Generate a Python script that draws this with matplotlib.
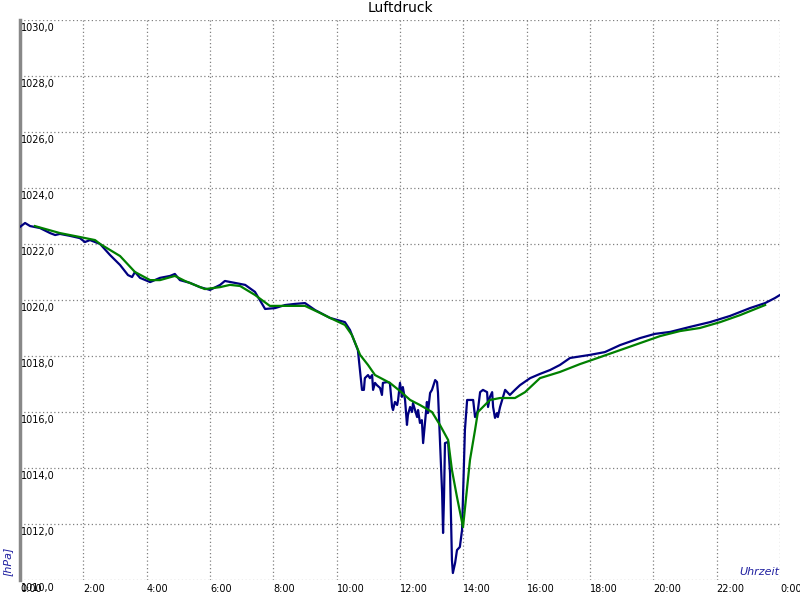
import matplotlib
matplotlib.use("Agg")
from matplotlib import pyplot as plt

# Luftdruck, blau: Messwerte, gruen: geglaettet
t_blau = [0.00, 0.16, 0.32, 0.63, 0.95, 1.11, 1.26, 1.58, 1.89, 2.05, 2.21, 2.53, 2.84, 3.16, 3.41, 3.54,
          3.63, 3.79, 4.11, 4.42, 4.74, 4.89, 5.05, 5.37, 5.68, 6.00, 6.32, 6.47, 6.79, 7.11, 7.42, 7.74,
          8.05, 8.37, 8.68, 9.00, 9.32, 9.79, 10.26, 10.42, 10.67, 10.80, 10.86, 10.89, 10.99, 11.05, 11.12,
          11.15, 11.21, 11.27, 11.37, 11.43, 11.46, 11.59, 11.68, 11.75, 11.78, 11.84, 11.91, 11.94, 12.00,
          12.06, 12.09, 12.16, 12.22, 12.25, 12.32, 12.38, 12.41, 12.54, 12.57, 12.63, 12.69, 12.73, 12.79,
          12.85, 12.88, 12.95, 13.01, 13.11, 13.17, 13.20, 13.26, 13.33, 13.36, 13.39, 13.42, 13.52, 13.58,
          13.64, 13.67, 13.74, 13.80, 13.89, 13.96, 13.99, 14.05, 14.12, 14.21, 14.31, 14.37, 14.43, 14.46,
          14.53, 14.62, 14.75, 14.78, 14.84, 14.91, 14.94, 15.00, 15.06, 15.09, 15.16, 15.32, 15.47, 15.63,
          15.79, 16.11, 16.42, 16.74, 17.05, 17.37, 18.00, 18.47, 18.95, 19.58, 20.05, 20.53, 21.16, 21.79,
          22.42, 23.05, 23.53, 23.84, 24.00]
p_blau = [1022.61, 1022.75, 1022.64, 1022.57, 1022.39, 1022.32, 1022.36, 1022.29, 1022.21, 1022.07, 1022.14,
          1022.00, 1021.61, 1021.25, 1020.89, 1020.82, 1021.00, 1020.79, 1020.64, 1020.79, 1020.86, 1020.93,
          1020.71, 1020.61, 1020.46, 1020.36, 1020.54, 1020.68, 1020.61, 1020.54, 1020.29, 1019.68, 1019.71,
          1019.82, 1019.86, 1019.89, 1019.64, 1019.36, 1019.21, 1018.93, 1018.21, 1016.79, 1016.79, 1017.21,
          1017.32, 1017.21, 1017.32, 1016.79, 1017.04, 1016.96, 1016.86, 1016.61, 1017.04, 1017.07, 1017.04,
          1016.18, 1016.07, 1016.36, 1016.25, 1016.43, 1017.04, 1016.54, 1016.89, 1016.43, 1015.54, 1015.89,
          1016.18, 1016.00, 1016.32, 1015.82, 1016.07, 1015.61, 1015.71, 1014.89, 1015.61, 1016.36, 1015.96,
          1016.68, 1016.79, 1017.14, 1017.07, 1016.68, 1015.00, 1013.11, 1011.68, 1012.96, 1014.89, 1014.93,
          1013.82, 1010.71, 1010.25, 1010.61, 1011.07, 1011.18, 1011.79, 1012.96, 1015.36, 1016.43, 1016.43,
          1016.43, 1015.82, 1015.96, 1016.07, 1016.71, 1016.79, 1016.71, 1016.18, 1016.54, 1016.71, 1016.18,
          1015.79, 1015.96, 1015.82, 1016.18, 1016.79, 1016.61, 1016.79, 1016.96, 1017.21, 1017.36, 1017.50,
          1017.68, 1017.93, 1018.04, 1018.14, 1018.39, 1018.64, 1018.79, 1018.86, 1019.04, 1019.21, 1019.43,
          1019.71, 1019.89, 1020.07, 1020.18]

t_gruen = [0.47, 1.26, 1.89, 2.37, 2.53, 3.16, 3.63, 4.11, 4.42, 4.89, 5.21, 5.84, 6.32, 6.63, 6.95, 7.42,
           7.89, 8.53, 9.00, 9.47, 9.79, 10.26, 10.48, 10.74, 10.99, 11.21, 11.68, 12.00, 12.32, 12.63, 13.01,
           13.26, 13.52, 13.64, 13.80, 13.99, 14.21, 14.37, 14.46, 14.84, 15.16, 15.63, 15.95, 16.42, 17.05,
           17.68, 18.32, 18.95, 19.58, 20.21, 20.84, 21.47, 22.11, 22.74, 23.53]
p_gruen = [1022.64, 1022.39, 1022.25, 1022.14, 1022.00, 1021.57, 1021.00, 1020.71, 1020.71, 1020.86, 1020.68,
           1020.39, 1020.46, 1020.54, 1020.50, 1020.18, 1019.79, 1019.79, 1019.79, 1019.54, 1019.36, 1019.11,
           1018.75, 1018.04, 1017.68, 1017.32, 1017.04, 1016.75, 1016.43, 1016.25, 1016.00, 1015.54, 1015.00,
           1013.93, 1012.96, 1011.89, 1014.29, 1015.36, 1016.00, 1016.43, 1016.50, 1016.50, 1016.71, 1017.21,
           1017.43, 1017.71, 1017.96, 1018.21, 1018.46, 1018.71, 1018.89, 1019.00, 1019.21, 1019.46, 1019.82]

x_ticks = list(range(0, 25, 2))
x_labels = ["0:00", "2:00", "4:00", "6:00", "8:00", "10:00", "12:00", "14:00", "16:00",
            "18:00", "20:00", "22:00", "0:00"]
y_ticks = list(range(1010, 1031, 2))
y_labels = ["%d,0" % v for v in y_ticks]

fig = plt.figure(figsize=(8, 6), dpi=100)
ax = fig.add_axes([0.025, 0.0333, 0.95, 0.9334])
ax.set_xlim(0, 24)
ax.set_ylim(1010, 1030)

ax.set_xticks(x_ticks)
ax.set_yticks(y_ticks)
ax.set_xticklabels([])
ax.set_yticklabels([])
ax.tick_params(length=0)
ax.grid(True, color="#808080", linestyle=(0, (1, 2)), linewidth=0.9)

for s in ["top", "right", "bottom"]:
    ax.spines[s].set_visible(False)
ax.spines["left"].set_color("#888888")
ax.spines["left"].set_linewidth(2.5)

ax.plot(t_blau, p_blau, color="#000080", linewidth=1.6, zorder=3)
ax.plot(t_gruen, p_gruen, color="#008000", linewidth=1.6, zorder=4)

# Beschriftungen wie im Original: y innen, x unter der Achse
for v, lab in zip(y_ticks, y_labels):
    ax.annotate(lab, (0, v), xytext=(1, -2), textcoords="offset points",
                ha="left", va="top", fontsize=7, color="black")
for v, lab in zip(x_ticks, x_labels):
    ax.annotate(lab, (v, 1010), xytext=(0, -3), textcoords="offset points",
                ha="left", va="top", fontsize=7, color="black", annotation_clip=False)

fig.text(0.5, 0.987, "Luftdruck", ha="center", va="center", fontsize=10)
ax.text(23.98, 1010.1, "Uhrzeit", ha="right", va="bottom", fontsize=8,
        style="italic", color="#2020a0")
fig.text(0.010, 0.04, "[hPa]", rotation=90, ha="center", va="bottom", fontsize=8,
         style="italic", color="#2020a0")

fig.savefig("out.png", dpi=100)
